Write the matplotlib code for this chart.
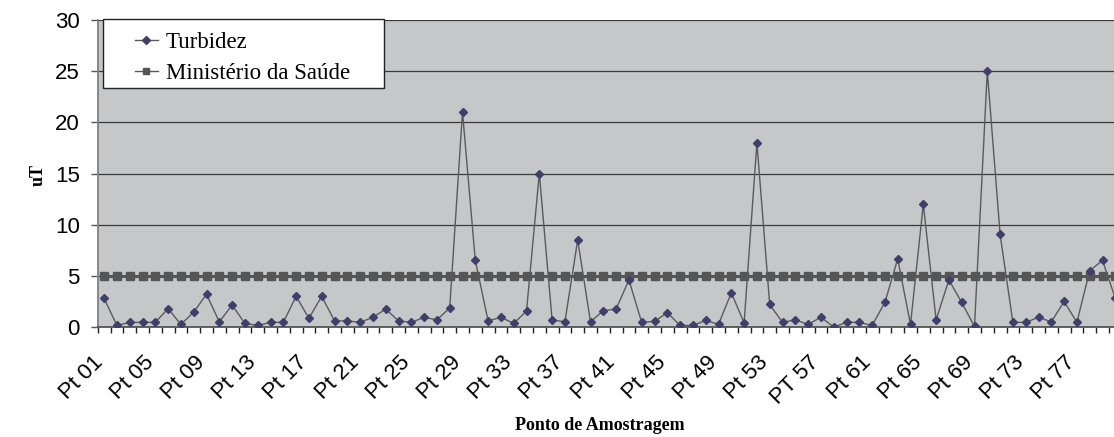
import matplotlib
matplotlib.use("Agg")
import matplotlib.pyplot as plt
from matplotlib.ticker import FixedLocator, NullFormatter
from matplotlib.patches import Rectangle
import matplotlib.transforms as mtransforms

# ---- data ----
categories = [("PT %02d" if i == 57 else "Pt %02d") % i for i in range(1, 81)]
turbidez = [2.8, 0.15, 0.45, 0.45, 0.45, 1.8, 0.25, 1.45, 3.2, 0.5,
            2.15, 0.35, 0.15, 0.45, 0.45, 3.0, 0.85, 3.0, 0.6, 0.6,
            0.45, 0.95, 1.75, 0.6, 0.45, 0.95, 0.7, 1.85, 21.0, 6.5,
            0.6, 0.95, 0.35, 1.55, 15.0, 0.7, 0.5, 8.5, 0.5, 1.6,
            1.75, 4.6, 0.45, 0.55, 1.4, 0.15, 0.15, 0.65, 0.25, 3.35,
            0.4, 18.0, 2.2, 0.45, 0.7, 0.25, 0.95, 0.0, 0.45, 0.45,
            0.15, 2.4, 6.65, 0.25, 12.0, 0.7, 4.6, 2.4, 0.05, 25.0,
            9.05, 0.45, 0.45, 0.95, 0.5, 2.5, 0.45, 5.5, 6.5, 2.8]
ministerio = [5.0] * len(categories)
yticks = [0, 5, 10, 15, 20, 25, 30]
label_step = 4

W, H = 1114, 437
fig = plt.figure(figsize=(W / 100, H / 100), dpi=100)
left_px, right_px, top_px, bottom_px = 97.7, 97.7 + 12.8 * 80, 20.0, 327.0
ax = fig.add_axes([left_px / W, 1 - bottom_px / H,
                   (right_px - left_px) / W, (bottom_px - top_px) / H])
ax.set_facecolor('#c6c7c9')

x = list(range(len(categories)))
ax.plot(x, ministerio, color='#555555', lw=2.2, marker='s', ms=5.2,
        mfc='#555555', mec='#555555', label='Ministério da Saúde', zorder=3)
ax.plot(x, turbidez, color='#5a5a5a', lw=1.0, marker='D', ms=4.2,
        mfc='#3f3f6b', mec='#3f3f6b', label='Turbidez', zorder=4)

ax.set_xlim(-0.5, len(categories) - 0.5)
ax.set_ylim(0, 30)
ax.set_yticks(yticks)
ax.yaxis.grid(True, color='#3a3a3a', lw=0.9)
ax.set_axisbelow(True)

for s in ['top', 'right']:
    ax.spines[s].set_visible(False)
ax.spines['left'].set_color('#808080')
ax.spines['left'].set_linewidth(1.3)
ax.spines['bottom'].set_color('#555555')
ax.spines['bottom'].set_linewidth(1.3)

sans = ['Liberation Sans', 'DejaVu Sans']
serif = ['Liberation Serif', 'DejaVu Serif']

ax.tick_params(axis='y', direction='out', length=4.8, width=1, color='#555555',
               pad=8, labelsize=16)
for t in ax.get_yticklabels():
    t.set_family(sans)

# category boundary ticks, labels every 4th category
ax.set_xticks([])
ax.xaxis.set_minor_locator(FixedLocator([i - 0.5 for i in range(len(categories) + 1)]))
ax.xaxis.set_minor_formatter(NullFormatter())
ax.tick_params(axis='x', which='minor', direction='out', length=4.5, width=1,
               color='#222222')
base = mtransforms.blended_transform_factory(ax.transData, ax.transAxes)
offset = mtransforms.ScaledTranslation(-12 / 100, -25 / 100, fig.dpi_scale_trans)
for i in range(0, len(categories), label_step):
    ax.text(i, 0, categories[i], transform=base + offset, rotation=45,
            ha='right', va='top', rotation_mode='anchor', family=sans,
            fontsize=16, clip_on=False)

fig.text(38 / W, 1 - 175 / H, 'uT', rotation=90, ha='center', va='center',
         family=serif, fontweight='bold', fontsize=13)
fig.text(600 / W, 1 - 425 / H, 'Ponto de Amostragem', ha='center', va='center',
         family=serif, fontweight='bold', fontsize=13)

# legend box drawn separately for exact padding
box = Rectangle((102.7 / W, 1 - 88.3 / H), (384 - 102.7) / W, (88.3 - 19.3) / H,
                transform=fig.transFigure, facecolor='white', edgecolor='#222222',
                lw=1.0, zorder=5)
fig.patches.append(box)

handles, labels = ax.get_legend_handles_labels()
leg = fig.legend(handles[::-1], labels[::-1], loc='upper left',
                 bbox_to_anchor=(135 / W, 1 - 32 / H),
                 bbox_transform=fig.transFigure,
                 prop={'family': serif, 'size': 16.5}, frameon=False,
                 handlelength=1.0, handletextpad=0.35, labelspacing=0.42,
                 borderpad=0, borderaxespad=0)
leg.set_zorder(6)
for h in leg.legend_handles:
    h.set_markersize(4)
    h.set_linewidth(1.0)

fig.savefig('out.png', dpi=100)
